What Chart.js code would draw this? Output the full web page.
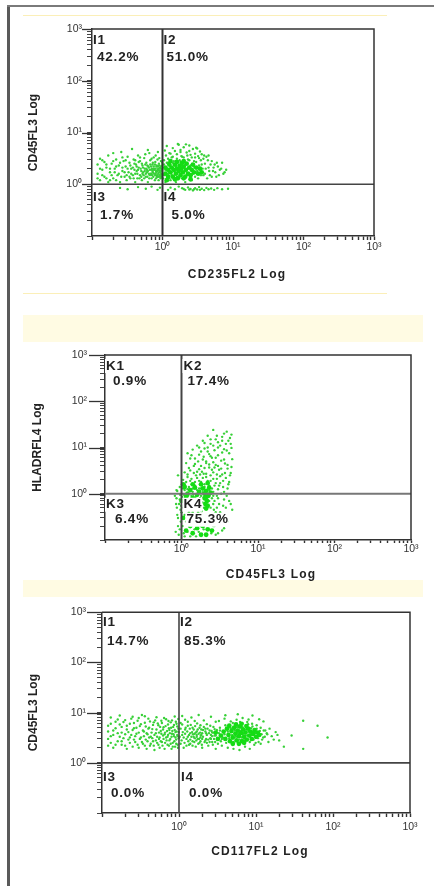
<!DOCTYPE html>
<html>
<head>
<meta charset="utf-8">
<script src="https://cdn.jsdelivr.net/npm/chart.js@4.4.1/dist/chart.umd.min.js"></script>
<style>
html,body{margin:0;padding:0;background:#fff;width:434px;height:886px;overflow:hidden;position:relative}
.abs{position:absolute}
canvas{position:absolute;left:0}
</style>
</head>
<body>
<div class="abs" style="left:7px;top:5px;width:3px;height:881px;background:#5a5a5a"></div>
<div class="abs" style="left:7px;top:5px;width:427px;height:2px;background:#7a7a7a"></div>
<div class="abs" style="left:23px;top:15px;width:364px;height:1px;background:#fbefb8"></div>
<div class="abs" style="left:23px;top:293px;width:364px;height:1px;background:#fbefb8"></div>
<div class="abs" style="left:23px;top:315px;width:400px;height:27px;background:#fffbe3"></div>
<div class="abs" style="left:23px;top:580px;width:400px;height:17px;background:#fffbe3"></div>
<canvas id="c1"></canvas>
<canvas id="c2"></canvas>
<canvas id="c3"></canvas>
<script>
// ---------- axis data ----------
const axisMin = 0.1, axisMax = 1000;
const decadeTicks = [0.1,0.2,0.3,0.4,0.5,0.6,0.7,0.8,0.9,1,2,3,4,5,6,7,8,9,10,20,30,40,50,60,70,80,90,100,200,300,400,500,600,700,800,900,1000];
const majorTickValues = [1,10,100,1000];
const majorTickLabels = {1:'10\u2070',10:'10\u00B9',100:'10\u00B2',1000:'10\u00B3'};
const gateX = 1, gateY = 1;

// ---------- panel 1 ----------
const p1Titles = {x:'CD235FL2 Log', y:'CD45FL3 Log'};
const p1Names = ['I1','I2','I3','I4'];
const p1Percents = ['42.2%','51.0%','1.7%','5.0%'];
const p1Events = [
[0.12,1.6],[0.12,2.4],[0.13,1.2],[0.13,3.1],[0.14,1.9],[0.15,2.7],[0.15,1.4],[0.16,2.1],[0.17,1.1],[0.17,3.6],
[0.18,1.7],[0.19,2.5],[0.2,1.3],[0.21,2.0],[0.22,3.0],[0.23,1.5],[0.24,2.3],[0.25,1.1],[0.26,4.2],[0.27,1.8],
[0.28,2.8],[0.29,1.4],[0.3,2.2],[0.31,1.2],[0.32,3.4],[0.33,1.7],[0.34,2.6],[0.35,1.3],[0.36,2.0],[0.37,4.8],
[0.38,1.5],[0.39,3.0],[0.4,1.9],[0.41,1.1],[0.42,2.4],[0.44,1.6],[0.45,3.6],[0.46,2.1],[0.47,1.3],[0.48,2.8],
[0.5,1.8],[0.51,1.2],[0.52,2.3],[0.54,1.5],[0.55,3.2],[0.56,2.0],[0.58,1.4],[0.59,2.6],[0.6,1.7],[0.62,1.1],
[0.63,2.2],[0.65,4.0],[0.66,1.5],[0.67,2.9],[0.69,1.9],[0.7,1.3],[0.72,2.4],[0.73,1.7],[0.75,3.3],[0.76,2.0],
[0.78,1.2],[0.79,2.7],[0.8,1.6],[0.82,2.2],[0.83,1.4],[0.85,3.0],[0.86,1.9],[0.88,1.2],[0.89,2.5],[0.9,1.7],
[0.92,2.1],[0.93,1.4],[0.95,2.8],[0.96,1.6],[0.98,2.3],[0.99,1.9],[0.7,1.6],[0.74,1.9],[0.81,1.8],[0.84,1.5],
[0.87,2.0],[0.91,1.8],[0.94,1.5],[0.97,2.0],[0.6,1.9],[0.64,1.6],[0.53,1.7],[0.43,1.8],
[0.12,1.3],[0.13,2.0],[0.14,1.5],[0.14,2.9],[0.16,1.3],[0.16,2.4],[0.18,1.2],[0.18,2.0],[0.19,1.5],[0.2,2.8],
[0.21,1.7],[0.22,1.2],[0.22,2.2],[0.24,1.6],[0.25,2.6],[0.26,1.4],[0.27,2.1],[0.29,1.7],[0.3,2.9],[0.31,1.5],
[0.32,2.0],[0.34,1.4],[0.35,2.3],[0.36,1.6],[0.38,2.1],[0.39,1.3],[0.4,2.5],[0.41,1.6],[0.43,2.2],[0.44,1.3],
[0.45,1.9],[0.46,2.7],[0.48,1.5],[0.49,2.0],[0.5,1.4],[0.51,2.5],[0.52,1.6],[0.53,2.1],[0.55,1.3],[0.56,1.8],
[0.57,2.4],[0.58,1.6],[0.59,2.0],[0.61,1.4],[0.61,2.3],[0.62,1.8],[0.64,2.1],[0.65,1.3],[0.66,1.9],[0.67,2.4],
[0.68,1.6],[0.69,2.2],[0.71,1.5],[0.71,2.0],[0.72,1.8],[0.73,2.6],[0.74,1.4],[0.75,2.2],[0.76,1.6],[0.77,1.9],
[0.78,2.4],[0.79,1.5],[0.8,2.0],[0.81,1.3],[0.82,1.7],[0.83,2.3],[0.84,1.8],[0.85,1.4],[0.86,2.2],[0.87,1.6],
[0.88,1.9],[0.89,1.4],[0.9,2.3],[0.91,1.5],[0.92,1.7],[0.93,2.0],[0.94,1.3],[0.95,1.8],[0.96,2.2],[0.97,1.6],
[0.98,1.4],[0.99,2.6],[0.9,3.2],[0.8,3.6],[0.7,3.1],[0.57,3.8],[0.48,3.3],[0.27,3.3],[0.2,4.0],[0.62,4.6],
[0.86,4.2],[0.41,2.9],
[1.02,1.3],[1.05,2.9],[1.08,4.5],[1.1,1.1],[1.12,3.6],[1.15,5.5],[1.2,2.6],[1.25,4.0],[1.3,1.2],[1.35,3.3],
[1.4,5.0],[1.45,2.8],[1.5,4.4],[1.55,1.1],[1.6,3.8],[1.7,5.8],[1.75,2.9],[1.8,4.6],[1.9,3.4],[2.0,5.2],
[2.1,1.1],[2.2,4.1],[2.3,3.0],[2.4,5.6],[2.5,3.7],[2.6,1.2],[2.7,4.8],[2.8,2.8],[2.9,3.9],[3.0,5.1],
[3.2,1.3],[3.3,3.2],[3.4,4.3],[3.6,2.4],[3.8,1.5],[3.9,3.6],[4.1,2.0],[4.3,1.3],[4.4,2.9],[4.6,1.8],
[4.8,2.4],[5.0,1.4],[5.3,2.1],[5.6,1.7],[5.9,2.6],[6.3,1.5],[6.8,2.0],[7.3,1.6],[8.0,1.9],[3.1,4.9],
[2.15,5.9],[1.65,6.0],
[1.05,1.5],[1.05,2.4],[1.1,1.9],[1.15,2.6],[1.2,1.6],[1.2,3.1],[1.25,1.3],[1.3,2.2],[1.35,1.5],[1.4,2.6],
[1.4,3.4],[1.5,1.7],[1.55,2.2],[1.6,1.4],[1.6,3.1],[1.7,2.1],[1.75,1.4],[1.8,2.7],[1.85,3.5],[1.9,1.3],
[2.0,1.7],[2.0,3.3],[2.1,2.4],[2.2,1.5],[2.25,3.6],[2.3,2.0],[2.4,2.9],[2.5,1.3],[2.5,2.3],[2.6,3.3],
[2.7,1.6],[2.8,2.2],[2.9,1.4],[3.0,2.7],[3.1,1.8],[3.2,3.5],[3.3,2.3],[3.5,1.5],[3.5,2.9],[3.7,2.0],
[3.8,3.1],[4.0,1.6],[4.0,2.5],[4.2,3.4],[4.5,2.1],[4.7,1.5],[5.0,2.8],[5.2,1.8],[5.5,2.4],[5.8,1.4],
[6.1,2.2],[6.5,1.9],[7.0,2.6],[7.6,1.7],[1.3,3.9],[1.8,4.2],[2.4,4.4],[2.9,3.3],[3.6,3.8],[4.5,3.6],
[0.25,0.85],[0.32,0.8],[0.45,0.88],[0.58,0.82],[0.7,0.9],[0.85,0.78],[0.92,0.86],[1.3,0.86],[1.5,0.8],[1.7,0.9],
[1.9,0.84],[2.1,0.78],[2.3,0.87],[2.5,0.81],[2.7,0.76],[2.9,0.84],[3.1,0.79],[3.3,0.88],[3.6,0.82],[3.9,0.77],
[4.2,0.85],[4.5,0.8],[4.9,0.83],[5.4,0.78],[6.0,0.84],[7.0,0.8],[8.5,0.82],[2.0,0.81],[2.4,0.79],[2.8,0.8],
[3.4,0.78],[1.2,0.78]
];
const p1Core = [
[1.1,1.6],[1.1,2.1],[1.2,1.4],[1.2,1.9],[1.25,2.4],[1.3,1.7],[1.35,2.1],[1.4,1.4],[1.45,1.9],[1.5,2.4],
[1.55,1.6],[1.6,2.0],[1.65,1.3],[1.7,1.8],[1.75,2.3],[1.8,1.5],[1.85,2.0],[1.9,2.6],[1.95,1.7],[2.0,2.2],
[2.1,1.4],[2.15,1.9],[2.2,2.5],[2.3,1.6],[2.4,2.1],[2.5,1.5],[2.6,1.9],[2.7,2.4],[2.8,1.7],[3.0,2.1],
[3.2,1.6],[3.4,2.0],[3.6,1.7],[1.3,2.8],[1.6,2.7],[2.0,2.8],[1.15,1.2],[1.5,1.25],[2.0,1.3],[2.5,1.25]
];

// ---------- panel 2 ----------
const p2Titles = {x:'CD45FL3 Log', y:'HLADRFL4 Log'};
const p2Names = ['K1','K2','K3','K4'];
const p2Percents = ['0.9%','17.4%','6.4%','75.3%'];
const p2Events = [
[2.6,24],[3.9,22],[2.2,18],[3.4,17],[4.5,19],[1.9,14],[2.8,15],[4.1,14],[1.6,11],[2.4,12],
[3.2,11],[4.4,12],[1.4,9],[2.0,9.5],[2.7,8.7],[3.6,9.2],[1.2,7.5],[1.7,7],[2.3,7.2],[3.0,6.8],
[4.2,7.5],[1.3,5.8],[1.9,5.5],[2.5,6],[3.3,5.2],[4.6,5.6],[1.15,4.6],[1.5,4.4],[2.1,4.6],[2.8,4.2],
[3.7,4.5],[1.25,3.6],[1.7,3.4],[2.3,3.7],[3.1,3.3],[4.0,3.5],[1.1,2.9],[1.45,2.8],[1.95,2.7],[2.6,2.9],
[3.4,2.6],[4.4,2.8],[1.2,2.3],[1.6,2.2],[2.1,2.3],[2.9,2.1],[3.8,2.2],[1.3,1.9],[1.8,1.8],[2.4,1.9],
[3.2,1.7],[4.2,1.8],[1.1,1.6],[1.5,1.5],[2.0,1.6],[2.7,1.5],[3.5,1.4],[1.2,1.25],[1.7,1.3],[2.3,1.2],
[3.0,1.25],[4.0,1.3],[1.4,1.1],[1.9,1.08],[2.6,1.1],[3.6,1.1],[1.05,2.0],[1.05,1.3],[0.95,1.4],[0.9,2.5],
[0.88,1.15],[2.2,10],[3.0,13],[1.8,8.2],[3.9,8.6],
[1.1,1.2],[1.15,1.8],[1.2,2.6],[1.25,1.4],[1.3,3.2],[1.35,2.1],[1.4,1.3],[1.45,4.0],[1.5,1.8],[1.55,2.5],
[1.6,1.2],[1.6,3.0],[1.65,5.0],[1.7,1.9],[1.75,2.6],[1.8,1.3],[1.8,4.0],[1.85,3.0],[1.9,2.2],[1.95,6.3],
[2.0,1.4],[2.0,3.6],[2.1,2.7],[2.1,5.0],[2.2,1.9],[2.2,8.2],[2.3,1.5],[2.3,4.3],[2.4,2.5],[2.4,6.5],
[2.5,3.3],[2.5,1.3],[2.6,2.1],[2.6,4.8],[2.7,3.7],[2.8,1.7],[2.8,6.0],[2.9,2.6],[3.0,4.0],[3.0,10],
[3.1,1.5],[3.2,2.4],[3.3,3.5],[3.4,7.8],[3.5,1.9],[3.6,5.5],[3.7,2.8],[3.8,12],[4.0,4.2],[4.1,1.6],
[4.3,2.5],[4.5,9.8],[4.5,3.8],[1.5,5.8],[1.35,6.8],[2.6,11],[2.0,12.5],[3.4,14],[2.9,18],[3.6,20],
[2.4,15],[1.7,10],[4.3,16],
[0.82,0.9],[0.85,0.6],[0.88,0.35],[0.9,0.2],[0.92,0.13],[0.95,0.75],[0.97,0.45],[0.98,0.25],[0.84,0.15],[0.86,1.2],
[1.1,0.65],[1.3,0.55],[1.5,0.65],[1.7,0.45],[1.6,0.35],[1.4,0.4],[1.2,0.3],[1.8,0.3],[2.6,0.6],[2.8,0.4],
[3.0,0.8],[3.2,0.25],[3.5,0.55],[3.8,0.35],[4.2,0.7],[2.7,0.2],[3.0,0.14],[3.6,0.18],[2.6,0.9],[3.3,1.0],
[4.6,0.45],[2.45,0.35],[1.75,0.8],[1.35,0.9],[1.1,0.12],[1.25,0.7],[2.9,0.5],[3.9,0.9],
[0.86,0.8],[0.87,0.5],[0.9,0.3],[0.93,0.6],[0.95,0.17],[0.96,0.95],[0.99,0.55],[1.0,0.4],[1.02,0.85],[1.03,0.2],
[1.05,0.5],[1.07,0.14],[1.08,0.95],[1.1,0.35],[1.12,0.75],[1.15,0.25],[1.17,0.55],[1.2,0.15],[1.22,0.9],[1.25,0.4],
[1.28,0.6],[1.3,0.12],[1.32,0.32],[1.35,0.75],[1.38,0.22],[1.4,0.55],[1.43,0.95],[1.45,0.3],[1.48,0.17],[1.5,0.45],
[1.52,0.85],[1.55,0.12],[1.58,0.6],[1.6,0.25],[1.63,0.95],[1.65,0.4],[1.68,0.15],[1.7,0.7],[1.72,0.3],[1.75,0.55],
[1.78,0.2],[1.8,0.9],[1.83,0.42],[1.85,0.13],[1.88,0.65],[1.9,0.3],[1.93,0.8],[1.95,0.17],[1.97,0.5],[2.3,0.7],
[2.35,0.25],[2.4,0.5],[2.45,0.14],[2.5,0.8],[2.55,0.3],[2.6,0.2],[2.65,0.45],[2.7,0.7],[2.8,0.13],[2.85,0.3],
[2.9,0.9],[3.0,0.22],[3.1,0.6],[3.2,0.4],[3.4,0.16],[3.6,0.75],[3.8,0.5],[4.0,0.25],[4.4,0.6]
];
const p2Core = [
[1.1,1.4],[1.3,1.2],[1.5,1.35],[1.7,1.1],[1.9,1.3],[2.1,1.15],[2.3,1.35],[1.2,1.0],[1.6,0.95],[2.0,1.0],
[2.4,1.05],[1.15,0.85],[1.4,0.8],[2.1,0.85],[2.15,0.7],[2.05,0.6],[2.2,0.55],[2.1,0.48],[2.0,0.8],[2.25,0.9],
[1.3,0.2],[1.6,0.18],[1.9,0.2],[2.2,0.17],[1.4,0.14],[1.8,0.13],[2.1,0.13],[2.5,0.16],[1.15,0.16],[1.5,0.25],
[2.0,0.25],[1.05,0.3],[1.2,0.5],[1.0,0.7],[1.05,1.6],[1.4,1.6],[1.8,1.6],[2.2,1.7]
];

// ---------- panel 3 ----------
const p3Titles = {x:'CD117FL2 Log', y:'CD45FL3 Log'};
const p3Names = ['I1','I2','I3','I4'];
const p3Percents = ['14.7%','85.3%','0.0%','0.0%'];
const p3Events = [
[0.12,2.2],[0.12,5.5],[0.13,3.4],[0.13,8.0],[0.14,2.0],[0.14,4.4],[0.15,6.6],[0.16,2.7],[0.16,3.9],[0.17,8.8],
[0.18,2.3],[0.18,5.2],[0.19,3.1],[0.2,7.1],[0.21,1.9],[0.21,4.6],[0.22,2.9],[0.23,6.0],[0.24,3.6],[0.25,2.1],
[0.25,8.3],[0.26,4.9],[0.27,2.6],[0.28,3.8],[0.29,6.9],[0.3,2.0],[0.31,5.4],[0.32,3.2],[0.33,9.0],[0.34,2.4],
[0.35,4.2],[0.36,6.3],[0.37,2.9],[0.38,1.9],[0.39,3.7],[0.4,7.6],[0.41,5.0],[0.42,2.2],[0.43,3.3],[0.45,4.7],
[0.46,2.7],[0.47,6.4],[0.48,1.8],[0.5,3.9],[0.51,8.1],[0.52,2.5],[0.54,5.6],[0.55,3.0],[0.56,2.0],[0.58,4.3],
[0.59,6.9],[0.6,2.6],[0.62,3.5],[0.63,5.1],[0.65,1.9],[0.66,4.0],[0.68,7.4],[0.69,2.8],[0.71,3.3],[0.72,5.8],
[0.74,2.2],[0.75,4.5],[0.77,3.0],[0.78,6.4],[0.8,1.9],[0.81,3.8],[0.83,2.5],[0.84,5.2],[0.86,3.4],[0.88,8.4],
[0.89,2.1],[0.9,4.1],[0.92,2.9],[0.93,6.0],[0.95,3.6],[0.96,2.3],[0.98,4.8],[0.99,3.1],
[0.12,3.0],[0.12,4.2],[0.13,2.5],[0.13,6.0],[0.14,3.6],[0.15,2.3],[0.15,4.9],[0.16,7.3],[0.17,3.3],[0.17,5.8],
[0.18,2.7],[0.18,4.0],[0.19,6.5],[0.2,2.2],[0.2,3.7],[0.21,5.5],[0.22,4.1],[0.23,2.5],[0.23,3.2],[0.24,7.6],
[0.25,4.5],[0.26,2.9],[0.26,6.2],[0.27,3.4],[0.28,5.0],[0.29,2.3],[0.3,4.0],[0.3,7.8],[0.31,3.0],[0.32,5.9],
[0.33,2.6],[0.34,4.4],[0.35,3.4],[0.36,2.2],[0.36,8.5],[0.37,5.3],[0.38,3.9],[0.39,2.7],[0.4,4.8],[0.41,3.2],
[0.42,6.7],[0.43,2.4],[0.44,4.0],[0.45,3.1],[0.46,5.7],[0.47,2.2],[0.48,3.6],[0.49,7.0],[0.5,2.8],[0.51,4.6],
[0.52,3.3],[0.53,6.1],[0.54,2.3],[0.55,4.0],[0.56,3.2],[0.57,5.2],[0.58,2.7],[0.59,3.8],[0.6,6.2],[0.61,2.2],
[0.62,4.6],[0.63,3.0],[0.64,7.8],[0.65,3.7],[0.66,2.5],[0.67,5.4],[0.68,3.2],[0.7,4.3],[0.71,2.3],[0.72,3.6],
[0.73,6.8],[0.74,4.9],[0.75,2.8],[0.76,3.9],[0.78,2.4],[0.79,5.0],[0.8,3.3],[0.81,7.0],[0.82,4.3],[0.83,2.1],
[0.85,3.7],[0.86,5.7],[0.87,2.7],[0.88,4.5],[0.9,3.2],[0.91,6.6],[0.92,2.4],[0.93,4.2],[0.95,5.3],[0.96,3.4],
[0.97,2.0],[0.98,7.5],[0.99,4.1],
[1.05,2.4],[1.05,6.2],[1.1,3.6],[1.1,8.6],[1.15,2.0],[1.2,4.6],[1.2,7.2],[1.25,3.0],[1.3,5.5],[1.35,2.3],
[1.4,3.9],[1.45,8.0],[1.5,2.7],[1.5,5.0],[1.55,3.3],[1.6,6.8],[1.65,2.1],[1.7,4.2],[1.75,3.0],[1.8,9.0],
[1.85,2.5],[1.9,5.6],[1.95,3.6],[2.0,2.0],[2.05,4.5],[2.1,7.0],[2.2,2.8],[2.25,3.9],[2.3,5.9],[2.4,2.2],
[2.5,4.4],[2.55,3.1],[2.6,8.3],[2.7,2.6],[2.8,5.2],[2.9,3.5],[3.0,1.9],[3.0,6.6],[1.3,3.3],[1.6,3.8],
[1.9,3.2],[2.2,4.8],[2.6,3.6],[1.4,2.9],[1.7,3.6],[2.0,3.0],[2.3,2.5],[2.7,4.0],
[1.02,3.3],[1.05,4.8],[1.08,2.8],[1.1,5.8],[1.12,4.1],[1.15,3.2],[1.18,2.5],[1.2,3.8],[1.22,5.0],[1.25,2.2],
[1.28,4.2],[1.3,6.6],[1.32,2.7],[1.35,3.6],[1.38,4.8],[1.4,2.4],[1.42,5.7],[1.45,3.3],[1.48,4.1],[1.5,2.2],
[1.52,3.7],[1.55,4.6],[1.58,2.6],[1.6,3.1],[1.62,5.4],[1.65,4.0],[1.68,2.8],[1.7,3.3],[1.72,6.1],[1.75,4.6],
[1.78,2.4],[1.8,3.8],[1.82,3.0],[1.85,5.0],[1.88,4.0],[1.9,2.7],[1.92,3.5],[1.95,4.6],[1.98,2.3],[2.0,3.9],
[2.05,3.3],[2.1,5.2],[2.15,2.6],[2.2,4.2],[2.25,3.0],[2.3,3.6],[2.35,4.8],[2.4,2.9],[2.45,3.9],[2.5,2.6],
[2.55,5.5],[2.6,3.0],[2.65,4.3],[2.7,3.4],[2.75,2.3],[2.8,4.0],[2.85,3.0],[2.9,4.7],[2.95,2.6],[3.0,3.5],
[3.1,4.5],[3.2,2.4],[3.3,3.9],[3.4,5.0],[3.5,2.7],[3.4,4.4],[3.6,3.0],
[3.3,6.8],[3.6,2.2],[3.9,7.6],[4.3,2.0],[4.7,6.7],[5.1,1.9],[5.6,7.2],[6.1,1.8],[6.7,7.8],[7.2,2.1],
[7.7,6.5],[8.3,1.9],[8.9,6.0],[9.5,2.3],[10.2,5.6],[10.8,2.6],[11.5,5.0],[12,2.9],[12.6,4.4],[13,3.3],
[13.8,3.9],[14.5,2.6],[15,4.8],[16,3.4],[17,2.9],[18,4.1],[19,3.6],[20,2.8],[9,8.8],[5.8,9.3],
[4.0,8.9],[12.5,6.7],[11,7.4],[8,7.3],
[3.7,3.2],[3.9,3.7],[4.1,2.5],[4.3,4.2],[4.5,3.1],[4.7,4.9],[4.9,3.6],[5.1,2.6],[5.3,4.4],[5.5,3.3],
[5.7,5.1],[5.9,3.9],[6.1,2.9],[6.3,4.3],[6.5,3.2],[6.7,5.1],[6.9,3.8],[7.1,2.8],[7.4,4.6],[7.7,3.5],
[8.0,4.2],[8.3,2.6],[8.6,4.9],[8.9,3.6],[9.3,2.9],[9.7,3.9],[10.2,4.8],[10.6,3.1],[11.2,4.3],[11.8,3.7],
[12.4,3.2],[13.2,4.4],[14,3.7],[9.9,2.5],[6.2,6.5],[5.0,6.2],[7.9,5.9],[4.0,5.6],[9.0,5.3],[11.5,2.4],
[23,2.1],[29,3.5],[41,6.9],[63,5.5],[85,3.2],[41,1.9]
];
const p3Core = [
[3.5,3.5],[3.8,4.2],[4.0,3.0],[4.2,4.8],[4.4,3.6],[4.6,2.7],[4.8,4.3],[5.0,3.2],[5.2,5.0],[5.4,3.8],
[5.6,2.8],[5.8,4.4],[6.0,3.4],[6.2,5.3],[6.4,3.9],[6.6,2.7],[6.8,4.6],[7.0,3.3],[7.3,4.0],[7.6,2.9],
[7.9,4.8],[8.2,3.5],[8.5,4.2],[8.8,3.0],[9.2,3.8],[9.6,4.5],[10,3.3],[10.5,4.0],[4.5,5.5],[5.5,5.8],
[6.5,6.0],[7.5,5.4],[3.2,3.0],[3.0,4.0],[5.0,2.4],[6.0,2.4],[7.0,2.5],[11,3.6]
];

// ---------- layout / style (pixels) ----------
const p1Style = {canvasTop:0, canvasH:290, left:92, right:374, top:29, bottom:236, padLeft:20,
  xTickPad:1, xTickLen:4, yTickPad:5, majorTick:10, xTitleX:237, xTitleY:275,
  nameOff:[[1,11],[1,11],[1,13],[1,13]], pctOff:[[5,28],[4,28],[8,31],[9,31]],
  vLine:['#333',2], hLine:['#444',1.6], labelBg:false};
const p2Style = {canvasTop:300, canvasH:285, left:105, right:411, top:355, bottom:540, padLeft:24,
  xTickPad:0, xTickLen:3, yTickPad:13, majorTick:16, xTitleX:271, xTitleY:575,
  nameOff:[[1,11],[2,11],[1,11],[2,11]], pctOff:[[8,26],[6,26],[10,26],[5,26]],
  vLine:['#444',2], hLine:['#777',2], labelBg:true};
const p3Style = {canvasTop:595, canvasH:291, left:102, right:410, top:612, bottom:813, padLeft:20,
  xTickPad:4, xTickLen:4, yTickPad:11, majorTick:15, xTitleX:260, xTitleY:852,
  nameOff:[[1,10],[1,10],[1,14],[2,14]], pctOff:[[5,29],[5,29],[9,30],[10,30]],
  vLine:['#444',1.6], hLine:['#444',1.6], labelBg:false};

const panelDecor = {
  id: 'panelDecor',
  afterDatasetsDraw(chart, args, o) {
    const {ctx, chartArea: a, scales: {x, y}} = chart;
    ctx.save();
    ctx.strokeStyle = '#333';
    ctx.lineWidth = 1.5;
    ctx.beginPath();
    ctx.moveTo(a.left, a.top); ctx.lineTo(a.right, a.top); ctx.lineTo(a.right, a.bottom);
    ctx.stroke();
    ctx.lineWidth = 1.3;
    majorTickValues.forEach(v => {
      const py = Math.round(y.getPixelForValue(v)) + 0.5;
      ctx.beginPath(); ctx.moveTo(a.left - o.style.majorTick, py); ctx.lineTo(a.left, py); ctx.stroke();
    });
    const gx = x.getPixelForValue(gateX), gy = y.getPixelForValue(gateY);
    const anchors = [[a.left, a.top],[gx, a.top],[a.left, gy],[gx, gy]];
    ctx.font = 'bold 13.5px Arial, "Liberation Sans", sans-serif';
    ctx.textBaseline = 'middle';
    ctx.textAlign = 'left';
    try { ctx.letterSpacing = '0.8px'; } catch(e) {}
    const drawLabel = (txt, px, py) => {
      if (o.style.labelBg) {
        const w = ctx.measureText(txt).width;
        ctx.fillStyle = '#fff';
        ctx.fillRect(px - 1, py - 7, w + 1, 14);
      }
      ctx.fillStyle = '#222';
      ctx.fillText(txt, px, py);
    };
    for (let i = 0; i < 4; i++) {
      drawLabel(o.names[i], anchors[i][0] + o.style.nameOff[i][0], anchors[i][1] + o.style.nameOff[i][1]);
      drawLabel(o.percents[i], anchors[i][0] + o.style.pctOff[i][0], anchors[i][1] + o.style.pctOff[i][1]);
    }
    ctx.font = 'bold 12px Arial, "Liberation Sans", sans-serif';
    try { ctx.letterSpacing = '1.2px'; } catch(e) {}
    ctx.textAlign = 'center';
    ctx.fillStyle = '#222';
    ctx.fillText(o.titles.x, o.style.xTitleX, o.style.xTitleY - o.style.canvasTop);
    ctx.restore();
  }
};

function toXY(p) { return {x: p[0], y: p[1]}; }

function buildPanel(id, style, titles, names, percents, events, core) {
  const canvas = document.getElementById(id);
  canvas.width = 434; canvas.height = style.canvasH;
  canvas.style.top = style.canvasTop + 'px';
  const relTop = style.top - style.canvasTop;
  const relBottom = style.bottom - style.canvasTop;
  const xScaleH = 30;
  const tickFont = {family: 'Arial, "Liberation Sans", sans-serif', size: 10.5};
  new Chart(canvas, {
    type: 'scatter',
    data: {datasets: [
      {label: 'gateV', data: [{x: gateX, y: axisMin}, {x: gateX, y: axisMax}], showLine: true, pointRadius: 0,
       borderColor: style.vLine[0], borderWidth: style.vLine[1], order: 0},
      {label: 'gateH', data: [{x: axisMin, y: gateY}, {x: axisMax, y: gateY}], showLine: true, pointRadius: 0,
       borderColor: style.hLine[0], borderWidth: style.hLine[1], order: 0},
      {label: 'core', data: core.map(toXY), pointRadius: 2.4, backgroundColor: '#14dc14', borderWidth: 0, order: 1},
      {label: 'events', data: events.map(toXY), pointRadius: 1.2, backgroundColor: '#38d038', borderWidth: 0, order: 2}
    ]},
    options: {
      responsive: false, animation: false, events: [],
      layout: {padding: {left: style.padLeft, top: relTop, right: 434 - style.right, bottom: style.canvasH - relBottom - xScaleH}},
      plugins: {legend: {display: false}, tooltip: {enabled: false},
        panelDecor: {style, titles, names, percents}},
      scales: {
        x: {type: 'logarithmic', position: 'bottom', min: axisMin, max: axisMax,
          afterBuildTicks: s => { s.ticks = decadeTicks.map(v => ({value: v})); },
          afterFit: s => { s.height = xScaleH; },
          ticks: {autoSkip: false, maxRotation: 0, minRotation: 0, padding: style.xTickPad, color: '#333', font: tickFont,
            callback: v => majorTickLabels[v] || ''},
          grid: {display: true, drawOnChartArea: false, drawTicks: true, tickLength: style.xTickLen, tickColor: '#333', tickWidth: 1.4},
          border: {display: true, color: '#333', width: 1.5}
        },
        y: {type: 'logarithmic', position: 'left', min: axisMin, max: axisMax,
          afterBuildTicks: s => { s.ticks = decadeTicks.map(v => ({value: v})); },
          afterFit: s => { s.width = style.left - style.padLeft; },
          ticks: {autoSkip: false, padding: style.yTickPad, color: '#333', font: tickFont,
            callback: v => majorTickLabels[v] || ''},
          grid: {display: true, drawOnChartArea: false, drawTicks: true, tickLength: 5, tickColor: '#444', tickWidth: 1},
          border: {display: true, color: '#333', width: 1.5},
          title: {display: true, text: titles.y, color: '#222',
            font: {family: 'Arial, "Liberation Sans", sans-serif', size: 12, weight: 'bold'}, padding: {top: 6, bottom: 0}}
        }
      }
    },
    plugins: [panelDecor]
  });
}

buildPanel('c1', p1Style, p1Titles, p1Names, p1Percents, p1Events, p1Core);
buildPanel('c2', p2Style, p2Titles, p2Names, p2Percents, p2Events, p2Core);
buildPanel('c3', p3Style, p3Titles, p3Names, p3Percents, p3Events, p3Core);
</script>
</body>
</html>
